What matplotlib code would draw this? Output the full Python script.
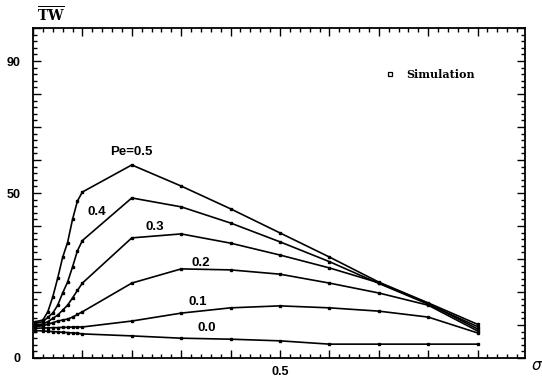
import matplotlib
matplotlib.use("Agg")
import matplotlib.pyplot as plt
from matplotlib.ticker import MultipleLocator, FixedLocator, FixedFormatter

# sigma positions (shared grid)
sigma = [0.005, 0.02, 0.03, 0.04, 0.05, 0.06, 0.07, 0.08, 0.09, 0.1,
         0.2, 0.3, 0.4, 0.5, 0.6, 0.7, 0.8, 0.9]

pe_labels = ["Pe=0.5", "0.4", "0.3", "0.2", "0.1", "0.0"]
tw_pe05 = [11.0, 11.5, 14.0, 18.5, 24.2, 30.5, 35.0, 42.0, 47.6, 50.3,
           58.5, 52.1, 45.2, 37.9, 30.6, 23.0, 16.7, 10.2]
tw_pe04 = [10.5, 11.0, 12.3, 13.6, 16.0, 19.7, 23.0, 27.6, 32.5, 35.6,
           48.5, 45.8, 40.9, 35.2, 29.2, 22.6, 16.3, 9.5]
tw_pe03 = [10.0, 10.3, 11.0, 12.0, 13.0, 14.5, 16.0, 18.2, 20.5, 22.7,
           36.4, 37.6, 34.8, 31.2, 27.3, 22.8, 16.5, 8.8]
tw_pe02 = [9.5, 9.8, 10.2, 10.7, 11.2, 11.5, 11.8, 12.4, 13.2, 14.0,
           22.7, 27.0, 26.7, 25.4, 22.7, 19.7, 16.0, 8.2]
tw_pe01 = [9.0, 9.1, 9.1, 9.2, 9.2, 9.3, 9.3, 9.4, 9.4, 9.4,
           11.2, 13.6, 15.2, 15.8, 15.2, 14.2, 12.4, 7.6]
tw_pe00 = [8.3, 8.2, 8.1, 8.0, 7.9, 7.8, 7.7, 7.6, 7.5, 7.3,
           6.7, 6.0, 5.7, 5.2, 4.2, 4.2, 4.2, 4.2]
series = [tw_pe05, tw_pe04, tw_pe03, tw_pe02, tw_pe01, tw_pe00]
label_pos = [(0.200, 62.3), (0.130, 44.2), (0.247, 39.7),
             (0.340, 28.8), (0.334, 17.0), (0.352, 9.1)]

yticklabels = {0: "0", 50: "50", 90: "90"}
xticklabels = {0.5: "0.5"}

fig = plt.figure(figsize=(5.42, 3.77), dpi=100)
ax = fig.add_axes([33/542, 19/377, 492/542, 330/377])

for tw in series:
    ax.plot(sigma, tw, color="black", lw=1.2, marker="s", ms=1.7,
            mfc="black", mec="black")

for lab, (lx, ly) in zip(pe_labels, label_pos):
    ax.text(lx, ly, lab, ha="center", va="center", fontsize=9.5,
            fontweight="bold", family="Liberation Sans")

# legend
ax.plot([0.723], [86], marker="s", ms=3, mfc="white", mec="black",
        mew=0.9, ls="none")
ax.text(0.755, 86, "Simulation", ha="left", va="center", fontsize=8,
        fontweight="bold", family="DejaVu Serif")

ax.set_xlim(0, 0.996)
ax.set_ylim(0, 100)

yt = list(range(0, 101, 10))
ax.yaxis.set_major_locator(FixedLocator(yt))
ax.yaxis.set_major_formatter(FixedFormatter([yticklabels.get(v, "") for v in yt]))
ax.yaxis.set_minor_locator(MultipleLocator(2))
xt = [i / 10 for i in range(0, 10)]
ax.xaxis.set_major_locator(FixedLocator(xt))
ax.xaxis.set_major_formatter(FixedFormatter([xticklabels.get(round(v, 1), "") for v in xt]))
ax.xaxis.set_minor_locator(MultipleLocator(0.02))

ax.tick_params(which="both", direction="in", top=True, right=True,
               width=1.0, labelsize=9)
ax.tick_params(which="major", length=6)
ax.tick_params(which="minor", length=3)
ax.tick_params(axis="y", pad=9)
ax.tick_params(axis="x", pad=6)
for t in ax.get_xticklabels() + ax.get_yticklabels():
    t.set_fontweight("bold")
    t.set_family("Liberation Sans")
for s in ax.spines.values():
    s.set_linewidth(1.3)

fig.text(51/542, 1 - 15/377, r"$\overline{\mathbf{TW}}$", ha="center",
         va="center", fontsize=10, family="DejaVu Serif",
         math_fontfamily="dejavuserif")
fig.text(537/542, 1 - 366/377, r"$\sigma$", ha="center", va="center",
         fontsize=11)

fig.savefig("out.png", dpi=100)
